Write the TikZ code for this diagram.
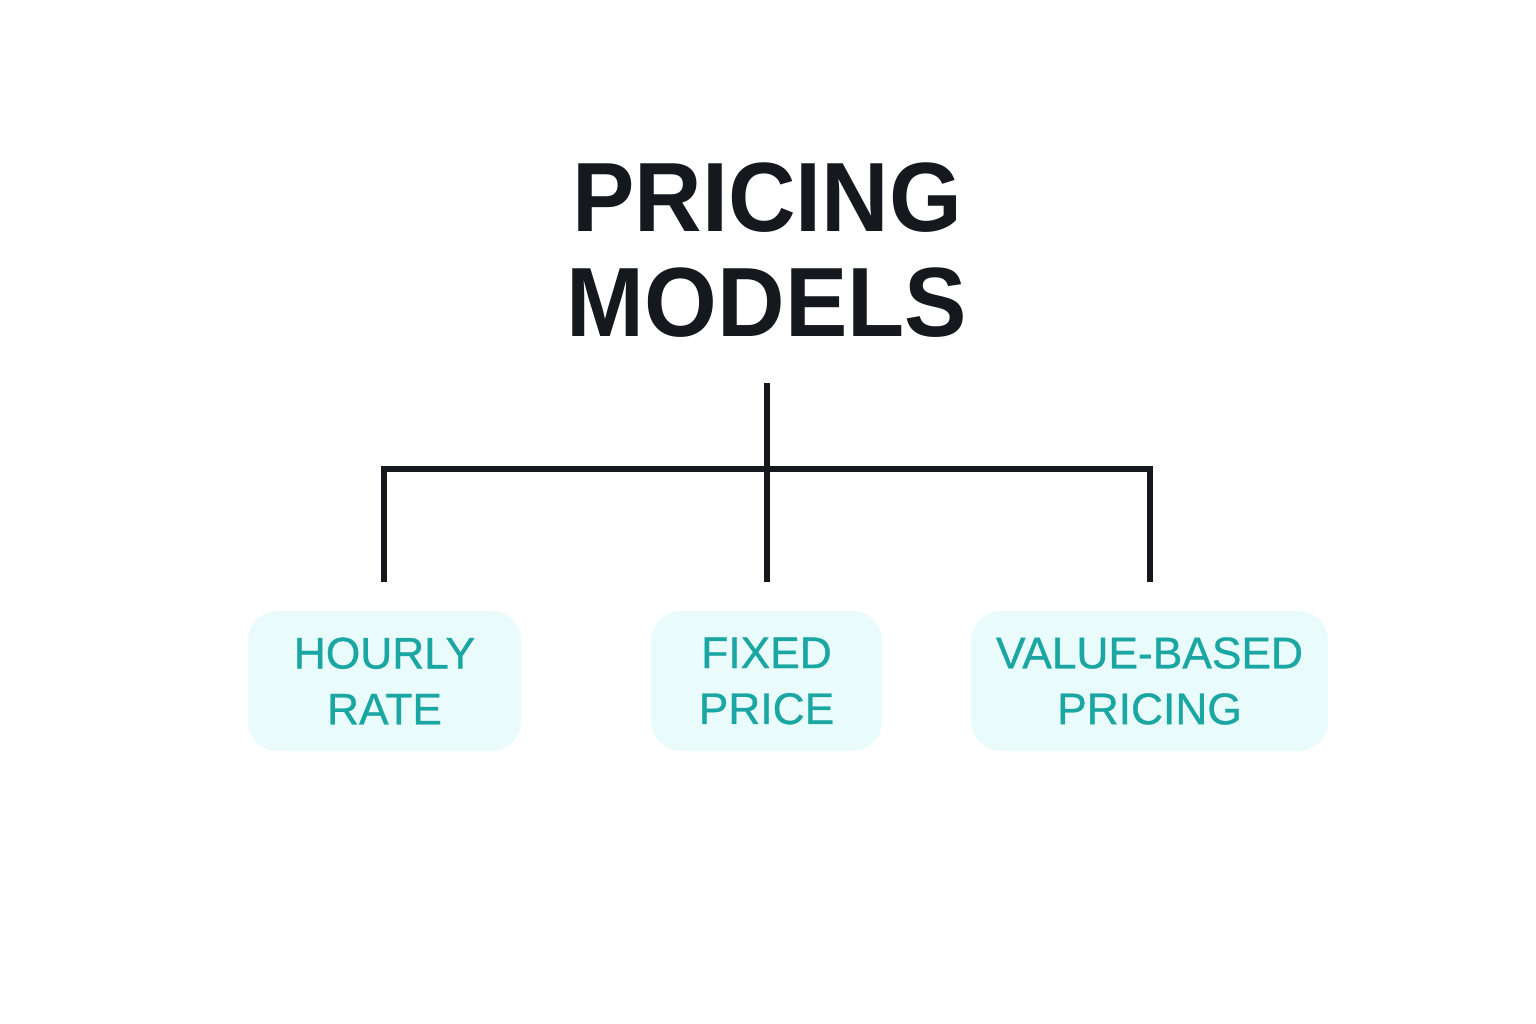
\documentclass[tikz,border=0pt]{standalone}
\usepackage{fontspec}
\setmainfont{Liberation Sans}
\newfontfamily\boxfont{Liberation Sans}[FakeBold=0.7]
\definecolor{ink}{HTML}{15191E}
\definecolor{teal1}{HTML}{1AA6A2}
\definecolor{boxfill}{HTML}{EAFBFB}
\begin{document}
\begin{tikzpicture}[x=0.01cm,y=-0.01cm,
  conn/.style={draw=ink,line width=1.45pt},
  model/.style={fill=boxfill,draw=none,rounded corners=0.3cm,text=teal1,align=center,
    font=\boxfont\fontsize{12.6pt}{15.9pt}\selectfont},
  title/.style={text=ink,align=center,font=\bfseries\fontsize{28pt}{29.9pt}\selectfont}]
\useasboundingbox[fill=white] (0,0) rectangle (1536,1024);
\node[title,xscale=0.95] (t) at (767,250) {PRICING\\MODELS};
\coordinate (top) at (767,383);
\coordinate (j) at (767,469);
\coordinate (l) at (384,469);
\coordinate (r) at (1150,469);
\coordinate (ld) at (384,582);
\coordinate (md) at (767,582);
\coordinate (rd) at (1150,582);
\draw[conn] (top) -- (md);
\draw[conn,line join=miter] (ld) -- (l) -- (r) -- (rd);
\path[model] (248,611) rectangle (521,751);
\path[model] (651,611) rectangle (882,751);
\path[model] (971,611) rectangle (1328,751);
\node[model,fill=none] (a) at (384.5,681) {HOURLY\\RATE};
\node[model,fill=none] (b) at (766.5,681) {FIXED\\PRICE};
\node[model,fill=none] (c) at (1149.5,681) {VALUE-BASED\\PRICING};
\end{tikzpicture}
\end{document}
